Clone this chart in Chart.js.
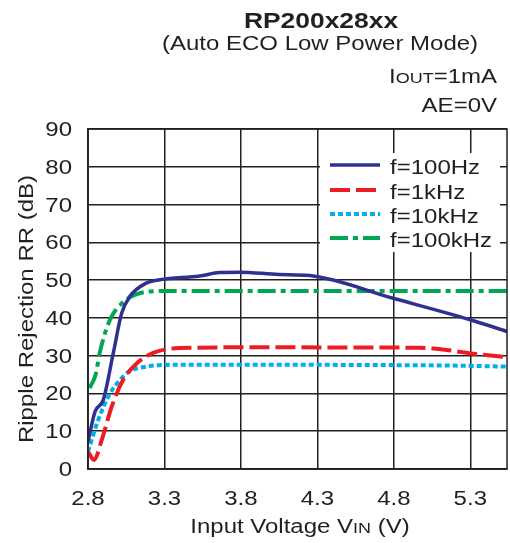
<!DOCTYPE html>
<html>
<head>
<meta charset="utf-8">
<script src="https://cdn.jsdelivr.net/npm/chart.js@4"></script>
<style>
  html, body { margin: 0; padding: 0; background: #fff; }
  #wrap { width: 510px; height: 543px; }
</style>
</head>
<body>
<div id="wrap"><canvas id="chart" width="510" height="543"></canvas></div>
<script>
// tick values
const xTicks = [2.8, 3.3, 3.8, 4.3, 4.8, 5.3];
const yTicks = [0, 10, 20, 30, 40, 50, 60, 70, 80, 90];

// series (VIN in V, RR in dB)
const vin100Hz = [2.8, 2.846, 2.9, 2.965, 3.02, 3.074, 3.18, 3.27, 3.53, 3.66, 3.79, 4.05, 4.25, 4.795, 5.3, 5.54];
const rr100Hz  = [7.2, 15.2, 18.3, 30.6, 41.2, 45.7, 49.2, 50.1, 51.1, 52.0, 52.1, 51.5, 51.2, 45.2, 39.5, 36.4];

const vin1kHz = [2.8, 2.84, 2.89, 2.955, 3.03, 3.12, 3.23, 3.4, 3.8, 4.97, 5.145, 5.32, 5.54];
const rr1kHz  = [4.6, 2.4, 7.7, 16.5, 23.6, 28.0, 30.8, 32.0, 32.2, 32.1, 31.5, 30.5, 29.6];

const vin10kHz = [2.8, 2.867, 2.944, 3.01, 3.07, 3.18, 3.4, 4.8, 5.3, 5.54];
const rr10kHz  = [4.6, 13.0, 20.0, 23.6, 25.8, 27.1, 27.6, 27.5, 27.3, 27.1];

const vin100kHz = [2.81, 2.85, 2.878, 2.944, 3.02, 3.12, 3.29, 5.54];
const rr100kHz  = [21.4, 25.0, 31.0, 39.5, 43.8, 46.3, 47.1, 47.1];

const seriesNames = ["f=100Hz", "f=1kHz", "f=10kHz", "f=100kHz"];

const FONT = "'Liberation Sans', Arial, sans-serif";
const INK = "#231f20";
const SX = 1.2; // the original lettering is set wide

function toPoints(xs, ys) {
  return xs.map((x, i) => ({ x: x, y: ys[i] }));
}

const datasets = [
  { label: seriesNames[0], data: toPoints(vin100Hz, rr100Hz), borderColor: "#2e3192", borderWidth: 3.5, borderDash: [] },
  { label: seriesNames[1], data: toPoints(vin1kHz, rr1kHz), borderColor: "#ed1c24", borderWidth: 4, borderDash: [20, 6] },
  { label: seriesNames[2], data: toPoints(vin10kHz, rr10kHz), borderColor: "#00aeef", borderWidth: 4, borderDash: [5, 3] },
  { label: seriesNames[3], data: toPoints(vin100kHz, rr100kHz), borderColor: "#00a651", borderWidth: 4, borderDash: [18, 5, 5, 5] },
].map((d) => Object.assign(d, { pointRadius: 0, fill: false, cubicInterpolationMode: "monotone" }));

// text in parts [text, font], stretched along its run by SX
function drawParts(ctx, parts, x, y, align) {
  let total = 0;
  parts.forEach(([t, f]) => { ctx.font = f; total += ctx.measureText(t).width; });
  const w = total * SX;
  const start = align === "right" ? x - w : align === "center" ? x - w / 2 : x;
  ctx.save();
  ctx.translate(start, y);
  ctx.scale(SX, 1);
  ctx.textAlign = "left";
  ctx.textBaseline = "alphabetic";
  let cx = 0;
  parts.forEach(([t, f]) => {
    ctx.font = f;
    ctx.fillText(t, cx, 0);
    cx += ctx.measureText(t).width;
  });
  ctx.restore();
}

const big = "20px " + FONT;
const small = "15px " + FONT;

const textPlugin = {
  id: "texts",
  afterDraw(chart) {
    const ctx = chart.ctx;
    const xs = chart.scales.x;
    const ys = chart.scales.y;
    ctx.save();
    ctx.fillStyle = INK;

    drawParts(ctx, [["RP200x28xx", "bold 22px " + FONT]], 321, 28, "center");
    drawParts(ctx, [["(Auto ECO Low Power Mode)", big]], 320, 50, "center");
    drawParts(ctx, [["I", big], ["OUT", small], ["=1mA", big]], 497, 83, "right");
    drawParts(ctx, [["AE=0V", big]], 497, 112, "right");

    // tick labels from the library's scales
    xTicks.forEach((v) => drawParts(ctx, [[v.toFixed(1), big]], xs.getPixelForValue(v), 505, "center"));
    yTicks.forEach((v) => drawParts(ctx, [[String(v), big]], 72, ys.getPixelForValue(v) + 7, "right"));

    drawParts(ctx, [["Input Voltage V", big], ["IN", small], [" (V)", big]], 300, 533, "center");

    ctx.save();
    ctx.translate(33, 309);
    ctx.rotate(-Math.PI / 2);
    drawParts(ctx, [["Ripple Rejection RR (dB)", big]], 0, 0, "center");
    ctx.restore();

    // legend inside the plot
    ctx.fillStyle = "#fff";
    ctx.fillRect(320, 153, 180, 99);
    const rows = [165, 190, 214, 238];
    datasets.forEach((d, i) => {
      ctx.beginPath();
      ctx.strokeStyle = d.borderColor;
      ctx.lineWidth = d.borderWidth;
      ctx.setLineDash(d.borderDash);
      ctx.moveTo(330, rows[i]);
      ctx.lineTo(380, rows[i]);
      ctx.stroke();
      ctx.setLineDash([]);
      ctx.fillStyle = INK;
      drawParts(ctx, [[d.label, big]], 390, rows[i] + 9, "left");
    });
    ctx.restore();
  },
};

new Chart(document.getElementById("chart"), {
  type: "line",
  data: { datasets },
  options: {
    responsive: false,
    animation: false,
    layout: { padding: { top: 129, right: 3, left: 0, bottom: 0 } },
    plugins: { legend: { display: false }, tooltip: { enabled: false } },
    scales: {
      x: {
        type: "linear",
        min: 2.8,
        max: 5.54,
        afterBuildTicks: (s) => { s.ticks = xTicks.map((v) => ({ value: v })); },
        afterFit: (s) => { s.height = 74; },
        grid: { color: INK, lineWidth: 1.5, drawTicks: false },
        border: { color: INK, width: 1.5 },
        ticks: { display: false },
      },
      y: {
        min: 0,
        max: 90,
        afterBuildTicks: (s) => { s.ticks = yTicks.map((v) => ({ value: v })); },
        afterFit: (s) => { s.width = 88; },
        grid: { color: INK, lineWidth: 1.5, drawTicks: false },
        border: { color: INK, width: 1.5 },
        ticks: { display: false },
      },
    },
  },
  plugins: [
    textPlugin,
    {
      id: "frame",
      afterDatasetsDraw(chart) {
        const { ctx, chartArea: a } = chart;
        ctx.save();
        ctx.strokeStyle = INK;
        ctx.lineWidth = 1.5;
        ctx.strokeRect(a.left, a.top, a.right - a.left, a.bottom - a.top);
        ctx.restore();
      },
    },
  ],
});
</script>
</body>
</html>
